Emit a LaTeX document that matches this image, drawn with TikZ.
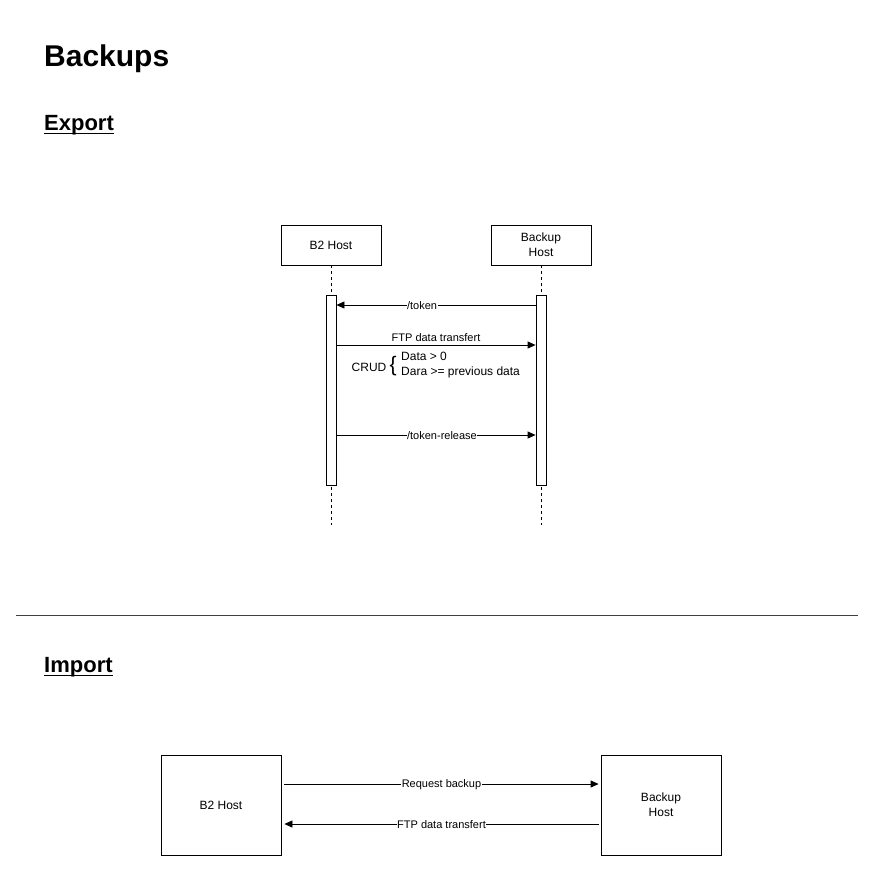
\documentclass[tikz,border=0pt]{standalone}
\usepackage{fontspec}
\setmainfont{Liberation Sans}
\usetikzlibrary{positioning,arrows.meta}

\tikzset{
  px/.style={x=1pt,y=-1pt},
  hostbox/.style={draw, line width=0.8pt, minimum width=100pt, minimum height=40pt,
    align=center, inner sep=0pt, font=\fontsize{12}{15}\selectfont},
  bigbox/.style={hostbox, minimum width=120pt, minimum height=100pt},
  actbar/.style={draw, fill=white, line width=0.8pt, minimum width=10pt, minimum height=190pt, inner sep=0pt},
  lifeline/.style={draw, dashed, line width=0.8pt, dash pattern=on 3pt off 3pt},
  msg/.style={draw, line width=0.8pt, -{Triangle[length=8pt,width=7pt]}},
  msglabel/.style={fill=white, inner sep=0.5pt, yshift=-1pt, font=\fontsize{11}{13}\selectfont},
  notetext/.style={inner sep=0pt, font=\fontsize{12}{15}\selectfont},
  heading/.style={anchor=base west, inner sep=0pt, font=\bfseries\fontsize{22}{26}\selectfont},
  uline/.style={line width=1.6pt}
}

\begin{document}
\begin{tikzpicture}[px]
    \useasboundingbox (0,0) rectangle (875,871);

    % Headings
    \node[heading, font=\bfseries\fontsize{30}{34}\selectfont] (title) at (44,66) {Backups};
    \node[heading] (export) at (44,130) {Export};
    \draw[uline] ([yshift=-3.5pt]export.base west) -- ([yshift=-3.5pt]export.base east);

    % Export: hosts
    \node[hostbox] (b2) at (331,245) {B2 Host};
    \node[hostbox] (bk) at (541,245) {Backup\\Host};
    \coordinate (b2end) at (331,525);
    \coordinate (bkend) at (541,525);

    % Lifelines and activations
    \draw[lifeline] (b2.south) -- (b2end);
    \draw[lifeline] (bk.south) -- (bkend);
    \node[actbar] (b2act) at (331,390) {};
    \node[actbar] (bkact) at (541,390) {};

    % Messages
    \draw[msg] (bkact.west |- 0,305) -- node[msglabel, pos=0.57] {/token} (b2act.east |- 0,305);
    \draw[msg] (b2act.east |- 0,345) -- node[msglabel, above=4pt] {FTP data transfert} (bkact.west |- 0,345);
    \draw[msg] (b2act.east |- 0,435) -- node[msglabel, pos=0.53] {/token-release} (bkact.west |- 0,435);

    % CRUD note
    \node[notetext] (crud) at (369,367) {CRUD};
    \node[notetext, right=3pt of crud, font=\fontsize{21}{21}\selectfont, yshift=0.5pt] (brace) {\{};
    \node[notetext, anchor=west, align=left] (rules) at (401,365.5) {Data > 0\\Dara >= previous data};

    % Separator
    \coordinate (sepl) at (16,615);
    \coordinate (sepr) at (858,615);
    \draw[line width=0.8pt, black!75] (sepl) -- (sepr);

    % Import
    \node[heading] (import) at (44,672) {Import};
    \draw[uline] ([yshift=-3.5pt]import.base west) -- ([yshift=-3.5pt]import.base east);

    \node[bigbox] (b2i) at (221,805) {B2 Host};
    \node[bigbox] (bki) at (661,805) {Backup\\Host};

    \draw[msg] ([xshift=3pt]b2i.east |- 0,784) -- node[msglabel] {Request backup} ([xshift=-2pt]bki.west |- 0,784);
    \draw[msg] ([xshift=-2pt]bki.west |- 0,824) -- node[msglabel] {FTP data transfert} ([xshift=3pt]b2i.east |- 0,824);
\end{tikzpicture}
\end{document}
